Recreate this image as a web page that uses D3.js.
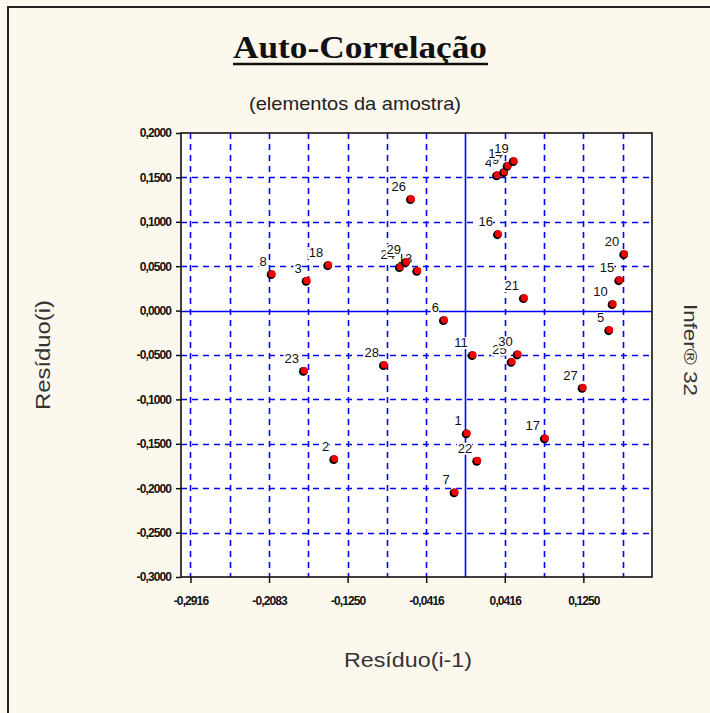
<!DOCTYPE html>
<html>
<head>
<meta charset="utf-8">
<script src="https://cdn.jsdelivr.net/npm/d3@7"></script>
<style>
  html, body { margin: 0; padding: 0; background: #FDF8EE; }
  svg { display: block; }
</style>
</head>
<body>
<svg id="chart" width="710" height="713"></svg>
<script>
// ---- data ----
const ids      = [1, 2, 3, 4, 5, 6, 7, 8, 9, 10, 11, 13, 14, 15, 16, 17, 18, 19, 20, 21, 22, 23, 24, 25, 26, 27, 28, 29, 30];
const resPrev  = [0.0013, -0.1391, -0.1684, 0.0336, 0.1525, -0.0228, -0.0115, -0.2055, 0.0411, 0.1561, 0.0076, -0.0511, 0.0448, 0.1631, 0.0345, 0.0843, -0.1455, 0.0512, 0.1684, 0.0620, 0.0125, -0.1713, -0.0695, 0.0490, -0.0578, 0.1243, -0.0864, -0.0631, 0.0554];
const resCurr  = [-0.1383, -0.1672, 0.0336, 0.1525, -0.0220, -0.0107, -0.2047, 0.0411, 0.1561, 0.0073, -0.0501, 0.0448, 0.1631, 0.0343, 0.0861, -0.1439, 0.0512, 0.1684, 0.0636, 0.0141, -0.1691, -0.0678, 0.0490, -0.0577, 0.1256, -0.0869, -0.0614, 0.0546, -0.0493];

const xTickValues = [-0.29166, -0.20833, -0.125, -0.041666, 0.041666, 0.125];
const xTickLabels = ["-0,2916", "-0,2083", "-0,1250", "-0,0416", "0,0416", "0,1250"];
const xGridValues = [-0.29166, -0.25, -0.20833, -0.16666, -0.125, -0.08333, -0.041666, 0.041666, 0.08333, 0.125, 0.16666];
const yTickValues = [0.2, 0.15, 0.1, 0.05, 0, -0.05, -0.1, -0.15, -0.2, -0.25, -0.3];
const yTickLabels = ["0,2000", "0,1500", "0,1000", "0,0500", "0,0000", "-0,0500", "-0,1000", "-0,1500", "-0,2000", "-0,2500", "-0,3000"];
const yGridValues = [0.15, 0.1, 0.05, -0.05, -0.1, -0.15, -0.2, -0.25];

const titleText = "Auto-Correlação";
const subtitleText = "(elementos da amostra)";
const xTitle = "Resíduo(i-1)";
const yTitle = "Resíduo(i)";
const sideText = "Infer® 32";

// ---- layout ----
const svg = d3.select("#chart");
const L = 181, R = 652, T = 133, B = 577;

const x = d3.scaleLinear().domain([-0.3017, 0.1978]).range([L, R]);
const y = d3.scaleLinear().domain([-0.3, 0.2]).range([B, T]);

// outer frame
svg.append("rect").attr("x", 0).attr("y", 0).attr("width", 710).attr("height", 713).attr("fill", "#FDF8EE");
svg.append("path").attr("d", "M8,713 V7 H710").attr("fill", "none").attr("stroke", "#222").attr("stroke-width", 2);

// plot area
svg.append("rect").attr("x", L).attr("y", T).attr("width", R - L).attr("height", B - T).attr("fill", "#fff");

// grid
const grid = svg.append("g");
grid.selectAll("line.vg").data(xGridValues).enter().append("line")
  .attr("x1", d => Math.round(x(d)) + 0.5).attr("x2", d => Math.round(x(d)) + 0.5)
  .attr("y1", T).attr("y2", B)
  .attr("stroke", "#0000FF").attr("stroke-width", 1.6).attr("stroke-dasharray", "6,5");
grid.selectAll("line.hg").data(yGridValues).enter().append("line")
  .attr("y1", d => Math.round(y(d)) + 0.5).attr("y2", d => Math.round(y(d)) + 0.5)
  .attr("x1", L).attr("x2", R)
  .attr("stroke", "#0000FF").attr("stroke-width", 1.6).attr("stroke-dasharray", "6,5");
// zero lines
grid.append("line").attr("x1", Math.round(x(0)) + 0.5).attr("x2", Math.round(x(0)) + 0.5).attr("y1", T).attr("y2", B)
  .attr("stroke", "#0000FF").attr("stroke-width", 1.6);
grid.append("line").attr("y1", Math.round(y(0)) + 0.5).attr("y2", Math.round(y(0)) + 0.5).attr("x1", L).attr("x2", R)
  .attr("stroke", "#0000FF").attr("stroke-width", 1.6);

// plot border
svg.append("rect").attr("x", L).attr("y", T).attr("width", R - L).attr("height", B - T)
  .attr("fill", "none").attr("stroke", "#111").attr("stroke-width", 1.6);

// axes
const tickFont = "'Liberation Sans', Arial, sans-serif";
const xAxis = d3.axisBottom(x).tickValues(xTickValues).tickSize(6).tickPadding(13)
  .tickFormat((d, i) => xTickLabels[i]);
const gx = svg.append("g").attr("transform", `translate(0,${B})`).call(xAxis);
gx.select(".domain").remove();
gx.selectAll(".tick line").attr("stroke", "#111").attr("stroke-width", 1.5);
gx.selectAll(".tick text").attr("font-family", tickFont).attr("font-size", 12).attr("font-weight", "bold")
  .attr("fill", "#111").attr("letter-spacing", "-0.9px");

const yAxis = d3.axisLeft(y).tickValues(yTickValues).tickSize(5).tickPadding(5)
  .tickFormat((d, i) => yTickLabels[i]);
const gy = svg.append("g").attr("transform", `translate(${L},0)`).call(yAxis);
gy.select(".domain").remove();
gy.selectAll(".tick line").attr("stroke", "#111").attr("stroke-width", 1.5);
gy.selectAll(".tick text").attr("font-family", tickFont).attr("font-size", 12).attr("font-weight", "bold")
  .attr("fill", "#111").attr("letter-spacing", "-0.9px");

// points and labels: each label sits on an opaque box, drawn in order,
// so later labels/points hide earlier ones as in the original
const pts = ids.map((id, i) => ({ id, xv: resPrev[i], yv: resCurr[i] }));
const pg = svg.append("g");
pts.forEach(p => {
  const cx = x(p.xv), cy = y(p.yv);
  const lg = pg.append("g");
  const t = lg.append("text").attr("x", cx - 5).attr("y", cy - 8).attr("text-anchor", "end")
    .attr("font-family", "'Liberation Sans', Arial, sans-serif").attr("font-size", 13).attr("fill", "#111")
    .text(p.id);
  const bb = t.node().getBBox();
  lg.insert("rect", "text").attr("x", bb.x - 1).attr("y", bb.y + 2).attr("width", bb.width + 1).attr("height", bb.height - 3)
    .attr("fill", "#fff");
  pg.append("circle").attr("cx", cx - 0.6).attr("cy", cy + 0.6).attr("r", 4.4).attr("fill", "#000");
  pg.append("circle").attr("cx", cx + 0.3).attr("cy", cy - 0.3).attr("r", 3.6).attr("fill", "#F00000");
});

// titles
svg.append("text").attr("x", 360).attr("y", 58).attr("text-anchor", "middle")
  .attr("font-family", "'Liberation Serif', 'Times New Roman', serif").attr("font-weight", "bold")
  .attr("font-size", 32).attr("fill", "#111")
  .attr("textLength", 254).attr("lengthAdjust", "spacingAndGlyphs")
  .text(titleText);
svg.append("line").attr("x1", 233).attr("x2", 488).attr("y1", 64).attr("y2", 64)
  .attr("stroke", "#111").attr("stroke-width", 2.4);

svg.append("text").attr("x", 355).attr("y", 110).attr("text-anchor", "middle")
  .attr("font-family", "'Liberation Sans', Arial, sans-serif").attr("font-size", 19).attr("fill", "#222")
  .attr("textLength", 212).attr("lengthAdjust", "spacingAndGlyphs")
  .text(subtitleText);

svg.append("text").attr("x", 408).attr("y", 667).attr("text-anchor", "middle")
  .attr("font-family", "'Liberation Sans', Arial, sans-serif").attr("font-size", 20).attr("fill", "#333")
  .attr("textLength", 128).attr("lengthAdjust", "spacingAndGlyphs")
  .text(xTitle);

svg.append("text").attr("transform", "translate(50,355) rotate(-90)").attr("text-anchor", "middle")
  .attr("font-family", "'Liberation Sans', Arial, sans-serif").attr("font-size", 20).attr("fill", "#333")
  .attr("textLength", 110).attr("lengthAdjust", "spacingAndGlyphs")
  .text(yTitle);

svg.append("text").attr("transform", "translate(684,350) rotate(90)").attr("text-anchor", "middle")
  .attr("font-family", "'Liberation Sans', Arial, sans-serif").attr("font-size", 19).attr("fill", "#333")
  .attr("textLength", 92).attr("lengthAdjust", "spacingAndGlyphs")
  .text(sideText);
</script>
</body>
</html>
